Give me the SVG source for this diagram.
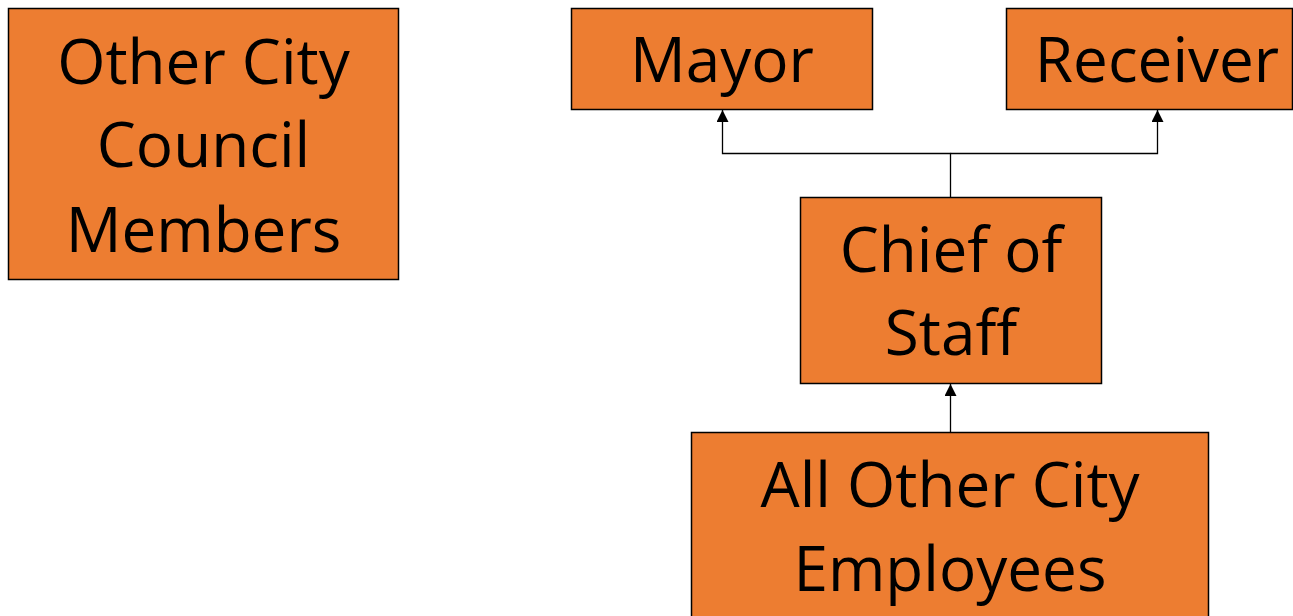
<svg xmlns="http://www.w3.org/2000/svg" width="1293" height="616" viewBox="0 0 1293 616">
<style>
.box{fill:#ED7D31;stroke:#000;stroke-width:1.5}
.lbl{font-family:"Open Sans","Noto Sans",sans-serif;font-size:62px;fill:#000;text-anchor:middle}
.con{fill:none;stroke:#000;stroke-width:1.3}
</style>
<defs>
<marker id="ah" viewBox="0 0 10 10" refX="10" refY="5" markerWidth="12" markerHeight="12" markerUnits="userSpaceOnUse" orient="auto">
<path d="M0,0 L10,5 L0,10 z" fill="#000"/>
</marker>
</defs>
<g id="council">
<rect class="box" x="8.5" y="8.5" width="390" height="271"/>
<text class="lbl" x="203.5" y="84">Other City</text>
<text class="lbl" x="203.5" y="167">Council</text>
<text class="lbl" x="203.5" y="252">Members</text>
</g>
<g id="mayor">
<rect class="box" x="571.5" y="8.5" width="301" height="101"/>
<text class="lbl" x="722" y="82">Mayor</text>
</g>
<g id="receiver">
<rect class="box" x="1006.5" y="8.5" width="286" height="101"/>
<text class="lbl" x="1157" y="82">Receiver</text>
</g>
<g id="chief">
<rect class="box" x="800.5" y="197.5" width="301" height="186"/>
<text class="lbl" x="951" y="272">Chief of</text>
<text class="lbl" x="951" y="355">Staff</text>
</g>
<g id="employees">
<rect class="box" x="691.5" y="432.5" width="517" height="190"/>
<text class="lbl" x="950" y="507">All Other City</text>
<text class="lbl" x="950" y="591">Employees</text>
</g>
<g id="connectors">
<path class="con" d="M950.5,197 V153.5 H722.5 V110" marker-end="url(#ah)"/>
<path class="con" d="M950.5,153.5 H1157.5 V110" marker-end="url(#ah)"/>
<path class="con" d="M950.5,432 L950.5,384" marker-end="url(#ah)"/>
</g>
</svg>
